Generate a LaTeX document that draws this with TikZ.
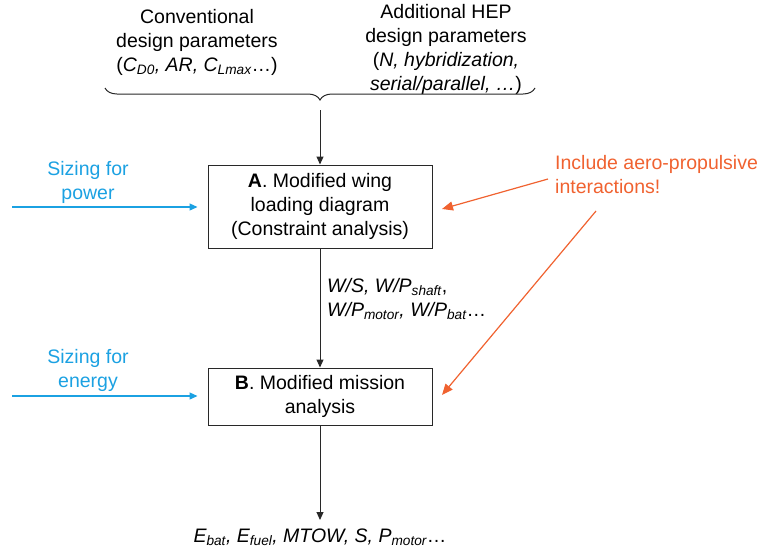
\documentclass[tikz,border=0pt]{standalone}
\usepackage{fontspec}
\setmainfont{Liberation Sans}
\usetikzlibrary{arrows.meta,decorations.pathreplacing}
\definecolor{skyblue}{RGB}{27,161,226}
\definecolor{flame}{RGB}{240,98,48}
\definecolor{ink}{RGB}{40,40,40}
\newcommand{\lo}[1]{\textsubscript{#1}}
\begin{document}
\begin{tikzpicture}[x=1pt,y=-1pt,
  font=\fontsize{19.5}{24}\selectfont,
  stagebox/.style={draw=ink,line width=1pt,minimum width=224pt,align=center,inner sep=0pt},
  flow/.style={draw=ink,line width=1pt,-{Triangle[length=8pt,width=7pt]}},
  bluearrow/.style={draw=skyblue,line width=1.2pt,-{Triangle[length=8pt,width=7pt]}},
  orangearrow/.style={draw=flame,line width=1.2pt,-{Triangle[length=11pt,width=9pt]}},
  plain/.style={align=center,inner sep=0pt}]
\useasboundingbox (0,0) rectangle (759,550);

% design parameter groups
\node[plain] (conv) at (197,42) {Conventional\\design parameters\\(\textit{C\lo{D0}, AR, C\lo{Lmax}}\dots)};
\node[plain] (hep) at (446,49) {Additional HEP\\design parameters\\(\textit{N, hybridization,}\\\textit{serial/parallel, \dots})};
\draw[ink,line width=1pt,decorate,decoration={brace,amplitude=12pt}] (535,88) -- (105,88);
\coordinate (tip) at (320,110);

% analysis stages
\node[stagebox,minimum height=83pt] (A) at (320,206.5) {\textbf{A}. Modified wing\\loading diagram\\(Constraint analysis)};
\node[stagebox,minimum height=57pt] (B) at (320,396.5) {\textbf{B}. Modified mission\\analysis};

\draw[flow] (tip) -- (A.north);
\draw[flow] (A.south) -- (B.north);
\node[anchor=west,align=left,inner sep=0pt] (ws) at (327,299) {\textit{W/S, W/P\lo{shaft}},\\\textit{W/P\lo{motor}, W/P\lo{bat}}\dots};

\node[inner sep=0pt] (out) at (320,537) {\textit{E\lo{bat}, E\lo{fuel}, MTOW, S, P\lo{motor}}\dots};
\coordinate (outtop) at (320,520);
\draw[flow] (B.south) -- (outtop);

% sizing inputs
\node[plain,text=skyblue] (pw) at (88,182) {Sizing for\\power};
\node[plain,text=skyblue] (en) at (88,370) {Sizing for\\energy};
\coordinate (pwin) at (12,207);
\coordinate (enin) at (12,396);
\draw[bluearrow,shorten >=10pt] (pwin) -- (A.west |- pwin);
\draw[bluearrow,shorten >=10pt] (enin) -- (B.west |- enin);

% aero-propulsive note
\node[anchor=west,align=left,inner sep=0pt,text=flame] (note) at (555,175) {Include aero-propulsive\\interactions!};
\coordinate (n1) at (548,179);
\coordinate (n2) at (596,211);
\coordinate (a1) at (442,209);
\coordinate (b1) at (442,395);
\draw[orangearrow] (n1) -- (a1);
\draw[orangearrow] (n2) -- (b1);
\end{tikzpicture}
\end{document}
